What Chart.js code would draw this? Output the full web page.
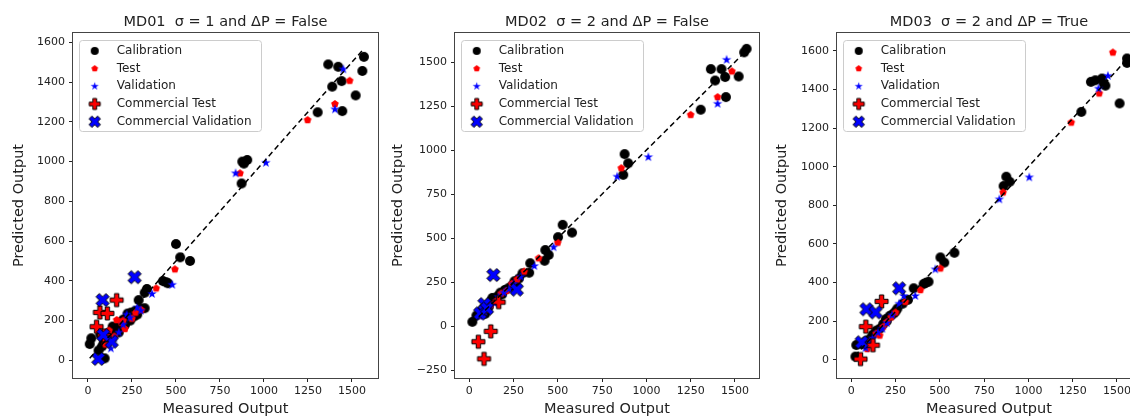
<!DOCTYPE html>
<html lang="en">
<head>
<meta charset="UTF-8">
<title>MD01 / MD02 / MD03</title>
<script src="https://cdn.jsdelivr.net/npm/chart.js"></script>
<style>
  body { margin: 0; width: 1130px; height: 418px; overflow: hidden; position: relative; background: #fff; }
  canvas { position: absolute; top: 0; }
</style>
</head>
<body>
<canvas id="md01" width="390" height="418" style="left:0px"></canvas>
<canvas id="md02" width="390" height="418" style="left:380px"></canvas>
<canvas id="md03" width="390" height="418" style="left:760px"></canvas>
<script>
// [measured, predicted] pairs
const md01Calibration = [[1365,1489],[1422,1477],[1568,1527],[1559,1456],[1441,1405],[1388,1377],[1521,1333],[1445,1254],[1305,1248],
  [877,1000],[905,1008],[886,990],[873,890],[500,585],[524,518],[580,500],[426,399],[444,393],[455,388],[335,359],[322,340],[288,303],
  [322,262],[270,250],[245,240],[260,220],[230,210],[200,205],[185,190],[210,178],[165,165],[150,150],[140,170],[120,140],[100,120],
  [110,100],[90,90],[80,70],[70,130],[19,111],[10,82],[95,10],[60,50],[130,120],[175,140],[240,200],[300,260],[280,230],[225,235]];
const md01Test = [[1487,1407],[1403,1290],[1248,1209],[864,941],[494,458],[388,362],[303,253],[270,240],[210,158],[200,200],
  [163,203],[150,120],[120,150],[100,80],[190,190],[250,210]];
const md01Validation = [[1451,1464],[1403,1263],[1011,994],[839,941],[479,380],[364,334],[280,265],[220,230],[200,180],[175,140],
  [150,110],[130,60],[100,120],[240,215],[300,250]];
const md01CommTest = [[163,303],[68,241],[110,236],[49,169],[92,125]];
const md01CommVal = [[83,303],[265,418],[135,94],[87,127],[59,7]];
const md01Diag = [10, 1565];

const md02Calibration = [[1364,1460],[1424,1460],[1388,1395],[1445,1415],[1521,1418],[1449,1301],[1307,1229],[1566,1575],[1552,1555],
  [877,977],[897,925],[869,859],[527,575],[580,531],[501,505],[429,432],[448,404],[425,371],[344,357],[338,303],[300,300],[280,270],
  [255,255],[240,230],[220,215],[200,205],[185,180],[160,170],[140,150],[120,140],[100,120],[80,100],[60,80],[40,60],[17,24],[90,70],
  [110,110],[130,160],[175,190],[260,240]];
const md02Test = [[1483,1447],[1402,1301],[1250,1200],[858,897],[499,474],[391,385],[310,310],[270,265],[240,240],[210,200],
  [180,185],[150,140],[120,120],[95,95],[70,60]];
const md02Validation = [[1453,1513],[1402,1263],[1011,960],[835,849],[476,448],[367,341],[290,280],[250,240],[225,210],[195,190],
  [165,165],[140,130],[110,100],[85,80],[60,55]];
const md02CommTest = [[166,136],[121,-30],[51,-89],[83,-186]];
const md02CommVal = [[136,290],[85,125],[61,72],[268,207],[100,100]];
const md02Diag = [17, 1570];

const md03Calibration = [[1557,1561],[1557,1538],[1353,1440],[1378,1448],[1416,1457],[1425,1431],[1435,1420],[1515,1328],[1299,1284],
  [875,948],[894,922],[860,900],[503,530],[582,554],[525,503],[436,404],[408,392],[420,398],[352,370],[320,310],[290,290],[260,265],
  [240,240],[215,225],[200,200],[180,185],[160,160],[140,150],[120,130],[100,105],[80,95],[60,80],[28,76],[23,16],[250,250],[225,230],[195,210]];
const md03Test = [[1477,1592],[1400,1380],[1242,1229],[857,867],[503,473],[390,361],[305,300],[250,245],[225,220],[200,195],
  [160,125],[140,135],[110,95],[90,55],[180,170]];
const md03Validation = [[1449,1471],[1396,1405],[1005,945],[836,831],[474,468],[361,330],[296,330],[270,290],[230,230],[200,190],
  [175,160],[150,140],[120,110],[80,60],[100,85]];
const md03CommTest = [[171,302],[82,171],[122,75],[52,3]];
const md03CommVal = [[270,370],[85,261],[137,245],[58,90]];
const md03Diag = [20, 1600];

const xTicks = [0, 250, 500, 750, 1000, 1250, 1500];
const md01YTicks = [0, 200, 400, 600, 800, 1000, 1200, 1400, 1600];
const md02YTicks = [-250, 0, 250, 500, 750, 1000, 1250, 1500];
const md03YTicks = [0, 200, 400, 600, 800, 1000, 1200, 1400, 1600];

const seriesNames = ['Calibration', 'Test', 'Validation', 'Commercial Test', 'Commercial Validation'];

Chart.defaults.font.family = '"DejaVu Sans", sans-serif';
Chart.defaults.color = '#222';

// matplotlib-like markers drawn once on small canvases
function marker(kind, size, fill, edge) {
  const c = document.createElement('canvas');
  c.width = c.height = Math.ceil(size + 4);
  const ctx = c.getContext('2d');
  const m = c.width / 2, r = size / 2;
  ctx.beginPath();
  if (kind === 'circle') {
    ctx.arc(m, m, r, 0, Math.PI * 2);
  } else if (kind === 'pentagon') {
    for (let i = 0; i < 5; i++) {
      const a = -Math.PI / 2 + i * 2 * Math.PI / 5;
      ctx.lineTo(m + r * Math.cos(a), m + r * Math.sin(a));
    }
  } else if (kind === 'star') {
    for (let i = 0; i < 10; i++) {
      const a = -Math.PI / 2 + i * Math.PI / 5;
      const rr = i % 2 ? r * 0.382 : r;
      ctx.lineTo(m + rr * Math.cos(a), m + rr * Math.sin(a));
    }
  } else {
    const t = r / 3;
    const pts = [[-t,-r],[t,-r],[t,-t],[r,-t],[r,t],[t,t],[t,r],[-t,r],[-t,t],[-r,t],[-r,-t],[-t,-t]];
    const rot = kind === 'x' ? Math.PI / 4 : 0;
    pts.forEach(([px, py]) => {
      ctx.lineTo(m + px * Math.cos(rot) - py * Math.sin(rot), m + px * Math.sin(rot) + py * Math.cos(rot));
    });
  }
  ctx.closePath();
  ctx.fillStyle = fill;
  ctx.fill();
  if (edge) { ctx.lineWidth = 1; ctx.strokeStyle = edge; ctx.stroke(); }
  return c;
}

const plotIcons = [
  marker('circle', 10, '#000'),
  marker('pentagon', 8, '#ff0000'),
  marker('star', 10, '#0000ff'),
  marker('plus', 13, '#ff0000', '#000'),
  marker('x', 14, '#0000ff', '#000')
];
const legendIcons = [
  marker('circle', 8, '#000'),
  marker('pentagon', 7, '#ff0000'),
  marker('star', 8.5, '#0000ff'),
  marker('plus', 11, '#ff0000', '#000'),
  marker('x', 12, '#0000ff', '#000')
];

// axes frame and legend box
const framePlugin = {
  id: 'frame',
  beforeDraw(chart) {
    const { ctx, chartArea: a } = chart;
    ctx.save();
    ctx.fillStyle = 'rgba(255,255,255,0.8)';
    ctx.strokeStyle = '#cccccc';
    ctx.lineWidth = 1;
    ctx.beginPath();
    if (ctx.roundRect) ctx.roundRect(a.left + 6.5, a.top + 7.5, 182, 91, 3);
    else ctx.rect(a.left + 6.5, a.top + 7.5, 182, 91);
    ctx.fill();
    ctx.stroke();
    ctx.restore();
  },
  afterDraw(chart) {
    const { ctx, chartArea: a } = chart;
    ctx.save();
    ctx.strokeStyle = '#444';
    ctx.lineWidth = 1;
    ctx.strokeRect(a.left - 0.5, a.top - 0.5, a.right - a.left + 1, a.bottom - a.top + 1);
    ctx.restore();
  }
};

const fmt = v => (v < 0 ? '\u2212' + Math.abs(v) : String(v));

function makeChart(id, title, series, diag, xRange, yRange, yTicks, yWidth, padRight, yTitlePad) {
  const datasets = series.map((pts, i) => ({
    label: seriesNames[i],
    data: pts.map(([x, y]) => ({ x, y })),
    pointStyle: plotIcons[i],
    legendIcon: legendIcons[i],
    order: 5 - i
  }));
  datasets.push({
    label: 'diag',
    data: diag.map(v => ({ x: v, y: v })),
    showLine: true,
    pointRadius: 0,
    borderColor: '#000',
    borderWidth: 1.5,
    borderDash: [5.5, 3.5],
    order: 0
  });

  new Chart(document.getElementById(id), {
    type: 'scatter',
    data: { datasets },
    options: {
      responsive: false,
      animation: false,
      events: [],
      layout: { padding: { left: 0, right: padRight, top: 0, bottom: 0 } },
      plugins: {
        tooltip: { enabled: false },
        title: {
          display: true,
          text: title,
          fullSize: false,
          color: '#222',
          font: { size: 14.5, weight: 'normal' },
          padding: { top: 13.3, bottom: 2.3 }
        },
        legend: {
          position: 'chartArea',
          align: 'start',
          // the chartArea legend starts at the canvas top, so push rows below the title
          title: { display: true, text: '', font: { size: 1 }, padding: { top: 38, bottom: 0 } },
          labels: {
            usePointStyle: true,
            pointStyleWidth: 32,
            font: { size: 12 },
            color: '#222',
            padding: 5.7,
            filter: item => item.datasetIndex < 5,
            sort: (a, b) => a.datasetIndex - b.datasetIndex,
            generateLabels(chart) {
              const items = Chart.defaults.plugins.legend.labels.generateLabels(chart);
              items.forEach(it => { it.pointStyle = chart.data.datasets[it.datasetIndex].legendIcon; });
              return items;
            }
          }
        }
      },
      scales: {
        x: {
          type: 'linear',
          min: xRange[0],
          max: xRange[1],
          afterBuildTicks: s => { s.ticks = xTicks.map(v => ({ value: v })); },
          afterFit: s => { s.height = 40; },
          grid: { drawOnChartArea: false, drawTicks: true, tickLength: 4, color: '#222' },
          border: { display: false },
          ticks: { font: { size: 11 }, color: '#222', padding: 3, maxRotation: 0, callback: fmt },
          title: { display: true, text: 'Measured Output', color: '#222', font: { size: 14.5 }, padding: { top: 0, bottom: 0 } }
        },
        y: {
          type: 'linear',
          min: yRange[0],
          max: yRange[1],
          afterBuildTicks: s => { s.ticks = yTicks.map(v => ({ value: v })); },
          afterFit: s => { s.width = yWidth; },
          grid: { drawOnChartArea: false, drawTicks: true, tickLength: 4, color: '#222' },
          border: { display: false },
          ticks: { font: { size: 11 }, color: '#222', padding: 4, callback: fmt },
          title: { display: true, text: 'Predicted Output', color: '#222', font: { size: 14.5 }, padding: { top: yTitlePad, bottom: 0 } }
        }
      }
    },
    plugins: [framePlugin]
  });
}

makeChart('md01', 'MD01  \u03c3 = 1 and \u0394P = False',
  [md01Calibration, md01Test, md01Validation, md01CommTest, md01CommVal], md01Diag,
  [-85, 1648], [-89, 1647], md01YTicks, 73, 12, 10.5);
makeChart('md02', 'MD02  \u03c3 = 2 and \u0394P = False',
  [md02Calibration, md02Test, md02Validation, md02CommTest, md02CommVal], md02Diag,
  [-81, 1636], [-295, 1665], md02YTicks, 75, 11, 9.8);
makeChart('md03', 'MD03  \u03c3 = 2 and \u0394P = True',
  [md03Calibration, md03Test, md03Validation, md03CommTest, md03CommVal], md03Diag,
  [-81, 1636], [-95, 1693], md03YTicks, 77, 9, 13.8);
</script>
</body>
</html>
